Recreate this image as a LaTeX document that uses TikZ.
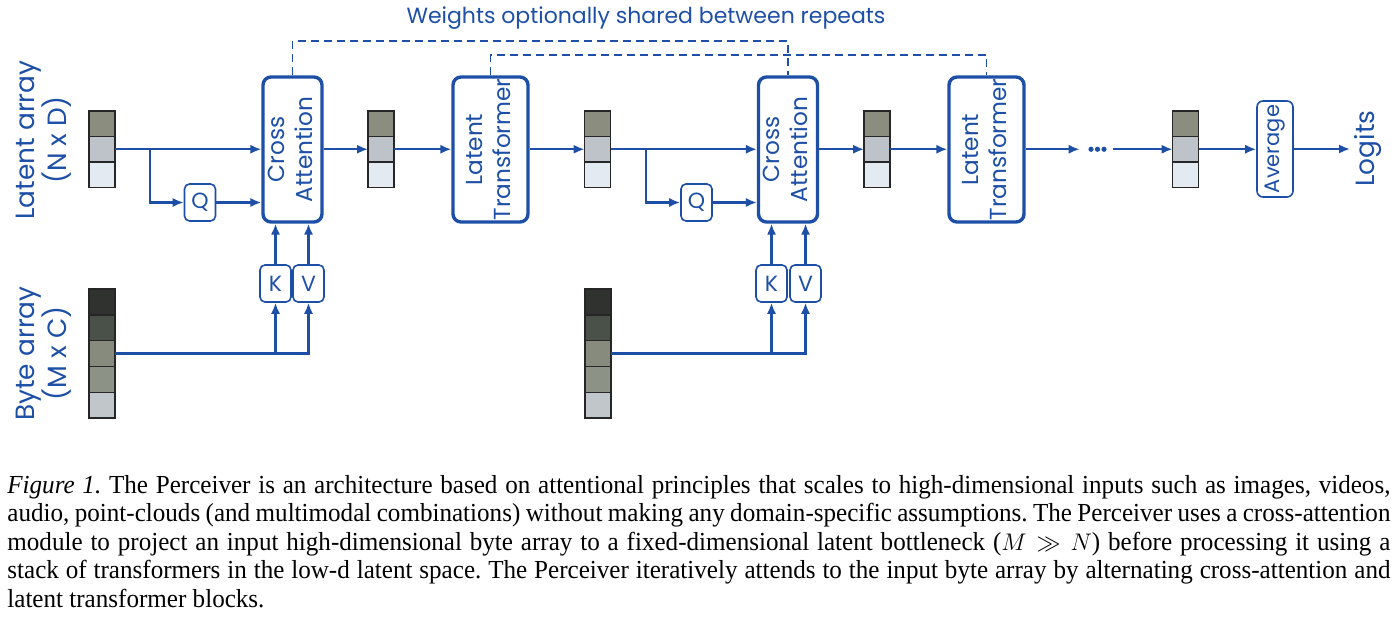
\documentclass[tikz,border=0pt]{standalone}
\usepackage{fontspec}
\setmainfont{Liberation Serif}
\newfontfamily\capfont[FakeStretch=0.965]{Liberation Serif}
\newfontfamily\dfont{Poppins}
\usepackage{tikz}
\usetikzlibrary{arrows.meta,calc}
\definecolor{pb}{HTML}{1D4FA6}
\definecolor{lat1}{HTML}{8B8E7F}
\definecolor{lat2}{HTML}{BDC3C9}
\definecolor{lat3}{HTML}{E3EAF1}
\definecolor{byt1}{HTML}{2F322E}
\definecolor{byt2}{HTML}{4A5148}
\definecolor{byt3}{HTML}{878B7E}
\definecolor{byt4}{HTML}{8C9386}
\definecolor{byt5}{HTML}{C1C6CB}
\tikzset{
  cell/.style={draw=black!85, line width=0.7pt, minimum width=13pt, inner sep=0pt, outer sep=0pt},
  blk/.style={draw=pb, line width=1.7pt, rounded corners=4pt, text=pb, inner sep=0pt, font=\dfont\fontsize{11.6}{14}\selectfont},
  xattn/.style={blk, minimum width=29.5pt, minimum height=72.5pt},
  ltrans/.style={blk, minimum width=37.5pt, minimum height=72.5pt},
  proj/.style={draw=pb, line width=0.8pt, rounded corners=2.5pt, text=pb, inner sep=0pt, minimum width=15.5pt, minimum height=18.5pt, font=\dfont\fontsize{11}{13}\selectfont},
  side/.style={text=pb, rotate=90, align=center, inner sep=2pt, font=\dfont\fontsize{13.2}{16}\selectfont},
  flow/.style={draw=pb, line width=1.05pt, -{Latex[length=5.5pt,width=4.6pt]}},
  share/.style={draw=pb, line width=0.85pt, dash pattern=on 4pt off 2.5pt},
  caption/.style={anchor=north west, inner sep=0pt, text width=691.5pt, align=justify, font=\capfont\fontsize{13}{14.25}\selectfont},
}
\newcommand{\vtext}[1]{\rotatebox{90}{\begin{tabular}{@{}c@{}}#1\end{tabular}}}
\newcommand{\latarr}[2]{%
  \foreach \i/\y in {1/123.75, 2/149.25, 3/174.75} {%
    \node[cell, minimum height=12.75pt, fill=lat\i] (#1-\i) at (#2,\y) {};
  }}
\newcommand{\bytarr}[2]{%
  \foreach \i/\y in {1/301.9, 2/327.7, 3/353.5, 4/379.3, 5/405.1} {%
    \node[cell, minimum height=12.9pt, fill=byt\i] (#1-\i) at (#2,\y) {};
  }}
\begin{document}
\begin{tikzpicture}[x=0.5pt,y=-0.5pt]
  \useasboundingbox (0,0) rectangle (1400,631);
  \node[side] (lat-lbl) at (43.5,140) {Latent array\\(N x D)};
  \node[side] (byt-lbl) at (43.5,353.5) {Byte array\\(M x C)};
  \latarr{la1}{102}
  \latarr{la2}{381}
  \latarr{la3}{597.5}
  \latarr{la4}{877}
  \latarr{la5}{1185.5}
  \bytarr{ba1}{102}
  \bytarr{ba2}{598}
  \node[xattn] (ca1) at (292.5,149.5) {\vtext{Cross\\Attention}};
  \node[ltrans] (lt1) at (490.5,149.5) {\vtext{Latent\\Transformer}};
  \node[xattn] (ca2) at (788,149.5) {\vtext{Cross\\Attention}};
  \node[ltrans] (lt2) at (986.5,149.5) {\vtext{Latent\\Transformer}};
  \node[proj] (q1) at (200,202.5) {Q};
  \node[proj] (q2) at (696.5,202.5) {Q};
  \node[proj] (k1) at (275.5,283.5) {K};
  \node[proj] (v1) at (308.5,283.5) {V};
  \node[proj] (k2) at (771.5,283.5) {K};
  \node[proj] (v2) at (805.5,283.5) {V};
  \node[blk, line width=0.8pt, rounded corners=3pt, minimum width=18pt, minimum height=48pt,
    font=\dfont\fontsize{10.5}{12}\selectfont] (avg) at (1275,149) {\rotatebox{90}{Average}};
  \node[side] (logits) at (1368,148.5) {Logits};
  \node[inner sep=0pt, minimum width=16.5pt, minimum height=4pt] (dots) at (1096.5,149.25) {};
  \foreach \x in {1091,1097.5,1104} \fill[pb] (\x,149.25) circle (1.3pt);
  \node[text=pb, font=\dfont\fontsize{11}{13}\selectfont] (share-lbl) at (646,18) {Weights optionally shared between repeats};

  \draw[share] (ca1.north) -- ++(0,-34) -| (ca2.north);
  \draw[share] (lt1.north) -- ++(0,-20) -| (lt2.north);

  \coordinate (s1) at (150,149.25);
  \coordinate (s2) at (646,149.25);
  \draw[flow] (la1-2.east) -- (la1-2.east -| ca1.west);
  \draw[flow] (s1) |- (q1.west);
  \draw[flow] (q1.east) -- (q1.east -| ca1.west);
  \draw[flow] (ba1-3.east) -| (v1.south);
  \draw[flow] (k1 |- ba1-3.east) -- (k1.south);
  \draw[flow] (k1.north) -- (k1.north |- ca1.south);
  \draw[flow] (v1.north) -- (v1.north |- ca1.south);
  \draw[flow] (la2-2.west -| ca1.east) -- (la2-2.west);
  \draw[flow] (la2-2.east) -- (la2-2.east -| lt1.west);
  \draw[flow] (la3-2.west -| lt1.east) -- (la3-2.west);
  \draw[flow] (la3-2.east) -- (la3-2.east -| ca2.west);
  \draw[flow] (s2) |- (q2.west);
  \draw[flow] (q2.east) -- (q2.east -| ca2.west);
  \draw[flow] (ba2-3.east) -| (v2.south);
  \draw[flow] (k2 |- ba2-3.east) -- (k2.south);
  \draw[flow] (k2.north) -- (k2.north |- ca2.south);
  \draw[flow] (v2.north) -- (v2.north |- ca2.south);
  \draw[flow] (la4-2.west -| ca2.east) -- (la4-2.west);
  \draw[flow] (la4-2.east) -- (la4-2.east -| lt2.west);
  \draw[flow] (dots.west -| lt2.east) -- (dots.west);
  \draw[flow] (dots.east) -- (la5-2.west);
  \draw[flow] (la5-2.east) -- (la5-2.east -| avg.west);
  \draw[flow] (avg.east) -- (avg.east -| logits.north);

  \node[caption] (cap) at (7,475) {\frenchspacing\textit{Figure 1.} The Perceiver is an architecture based on attentional principles that scales to high-dimensional inputs such as images, videos,\linebreak
  audio, point-clouds (and multimodal combinations) without making any domain-specific assumptions. The Perceiver uses a cross-attention\linebreak
  module to project an input high-dimensional byte array to a fixed-dimensional latent bottleneck ($M\gg N$) before processing it using a\linebreak
  stack of transformers in the low-d latent space. The Perceiver iteratively attends to the input byte array by alternating cross-attention and\linebreak
  latent transformer blocks.};
\end{tikzpicture}
\end{document}
